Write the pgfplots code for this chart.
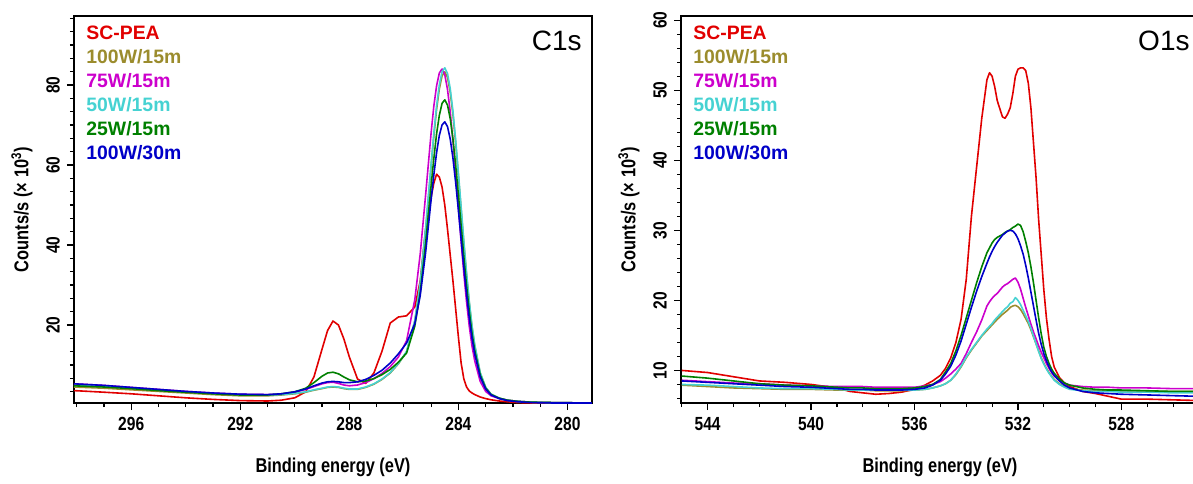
\documentclass[border=0pt]{standalone}
\usepackage{fontspec}
\setmainfont{Liberation Sans}
\newfontfamily\narrowfont{Liberation Sans}[FakeStretch=0.82]
\usepackage{pgfplots}
\pgfplotsset{compat=1.18}
\usepackage{pgfplotstable}

\definecolor{cred}{RGB}{225,0,0}
\definecolor{colive}{RGB}{155,140,45}
\definecolor{cmag}{RGB}{204,0,204}
\definecolor{ccyan}{RGB}{70,210,210}
\definecolor{cgreen}{RGB}{0,128,0}
\definecolor{cblue}{RGB}{0,0,200}

\newcommand{\tickfont}{\narrowfont\bfseries\fontsize{9.5}{11}\selectfont}
\newcommand{\labfont}{\narrowfont\bfseries\fontsize{10}{12}\selectfont}
\newcommand{\legfont}{\bfseries\fontsize{9.7}{11}\selectfont}

% C1s region: binding energy, counts/s (x 10^3)
\pgfplotstableread{
E      red   olive  mag   cyan  green blue
298.1  3.6   4.5    5.3   4.9   4.8   5.3
297.0  3.2   4.2    4.9   4.6   4.5   4.9
296.0  2.8   3.8    4.4   4.2   4.1   4.4
295.0  2.3   3.4    3.9   3.7   3.6   3.9
294.0  1.8   3.0    3.4   3.3   3.2   3.4
293.0  1.4   2.6    3.0   2.9   2.8   3.0
292.0  1.1   2.3    2.7   2.6   2.5   2.7
291.0  1.0   2.3    2.6   2.5   2.5   2.6
290.5  1.2   2.5    2.7   2.6   2.8   2.8
290.0  1.8   2.8    3.2   2.9   3.3   3.3
289.6  3.3   3.2    3.9   3.3   4.2   4.0
289.3  7.0   3.7    4.6   3.8   5.6   4.8
289.0  14.0  4.1    5.3   4.2   7.2   5.5
288.8  18.6  4.4    5.6   4.5   8.0   5.8
288.6  21.0  4.5    5.7   4.6   8.2   5.9
288.4  20.0  4.4    5.4   4.5   7.8   5.8
288.2  16.5  4.1    5.0   4.2   7.0   5.6
288.0  12.0  3.9    4.8   4.0   6.3   5.6
287.7  6.5   3.9    5.0   4.0   5.8   5.8
287.4  5.4   4.4    5.6   4.5   6.0   6.4
287.1  8.0   5.2    6.6   5.3   6.6   7.4
286.8  13.5  6.4    7.9   6.5   7.6   8.7
286.5  20.5  8.0    9.6   8.1   8.9   10.5
286.2  22.0  10.3   12.0  10.4  10.7  12.8
285.9  22.3  13.3   16.1  13.4  13.0  15.5
285.6  24.5  20.9   26.3  21.1  19.7  20.3
285.4  31.0  30.2   37.8  30.5  28.1  27.4
285.2  44.0  43.9   52.7  44.4  40.5  38.3
285.0  52.0  59.7   68.1  60.4  54.9  51.4
284.9  55.5  67.2   74.8  68.0  61.7  57.6
284.8  57.7  73.9   79.8  74.8  67.8  63.1
284.7  57.0  79.0   83.0  80.0  72.4  67.4
284.6  54.5  82.3   84.0  83.3  75.4  70.0
284.5  50.0  83.3   82.6  84.3  76.3  70.8
284.4  44.0  81.9   78.9  82.9  75.0  69.6
284.3  37.5  78.2   73.3  79.1  71.6  66.5
284.2  31.0  72.6   66.0  73.5  66.5  61.7
284.1  24.0  65.4   57.9  66.2  59.9  55.6
284.0  17.0  57.3   49.3  58.0  52.5  48.7
283.9  10.5  48.9   40.8  49.5  44.8  41.5
283.8  6.5   40.4   32.8  40.9  37.0  34.3
283.7  4.5   32.5   25.7  32.9  29.8  27.6
283.6  3.5   25.5   19.6  25.8  23.4  21.7
283.5  3.0   19.5   14.7  19.7  17.9  16.7
283.4  2.6   14.8   11.0  15.0  13.6  12.7
283.2  2.0   8.0    5.9   8.1   7.5   7.0
283.0  1.6   4.4    3.4   4.4   4.2   4.0
282.8  1.3   2.7    2.3   2.7   2.6   2.5
282.5  1.0   1.7    1.6   1.7   1.7   1.6
282.2  0.8   1.2    1.2   1.2   1.2   1.1
281.8  0.6   0.9    0.9   0.9   0.9   0.8
281.3  0.5   0.7    0.7   0.7   0.7   0.6
280.5  0.4   0.6    0.6   0.6   0.6   0.5
279.1  0.4   0.5    0.5   0.5   0.5   0.5
}\cones

% O1s region
\pgfplotstableread{
E      red   olive  mag   cyan  green blue
545.0  10.0  7.9   8.6   8.0   9.2   8.5
544.0  9.7   7.7   8.4   7.9   8.9   8.3
543.0  9.1   7.5   8.2   7.7   8.5   8.1
542.0  8.5   7.4   8.1   7.5   8.1   7.9
541.0  8.3   7.3   7.9   7.4   7.9   7.7
540.0  8.0   7.3   7.8   7.4   7.8   7.6
539.0  7.5   7.2   7.7   7.3   7.6   7.4
538.5  7.0   7.2   7.7   7.2   7.5   7.3
538.0  6.8   7.2   7.7   7.2   7.5   7.3
537.5  6.6   7.1   7.6   7.2   7.4   7.2
537.0  6.7   7.1   7.6   7.2   7.4   7.2
536.5  6.9   7.1   7.6   7.2   7.4   7.2
536.0  7.3   7.2   7.6   7.2   7.5   7.3
535.6  7.9   7.3   7.8   7.3   7.7   7.5
535.3  8.5   7.5   8.0   7.5   8.0   7.9
535.0  9.3   7.8   8.4   7.8   8.7   8.6
534.8  10.3  8.1   8.9   8.1   9.8   9.5
534.6  11.8  8.6   9.5   8.6   11.0  10.6
534.4  14.0  9.4   10.2  9.5   12.8  12.2
534.2  17.3  10.5  11.0  10.6  15.0  14.2
534.0  23.0  11.8  12.4  11.9  17.5  16.6
533.8  32.0  12.9  14.0  13.0  20.0  19.0
533.6  39.0  13.9  15.5  14.0  22.5  21.3
533.4  46.0  14.9  17.2  15.0  24.8  23.4
533.2  51.5  15.7  19.2  15.9  26.8  25.3
533.1  52.5  16.1  19.8  16.3  27.5  26.2
533.0  52.0  16.5  20.3  16.7  28.2  27.0
532.9  50.5  16.9  20.7  17.2  28.7  27.7
532.8  48.5  17.3  21.0  17.6  29.0  28.3
532.6  46.2  18.0  21.9  18.4  29.4  29.3
532.5  46.0  18.3  22.2  18.8  29.7  29.6
532.4  46.6  18.6  22.4  19.1  29.9  29.9
532.3  47.5  19.0  22.7  19.6  30.1  30.0
532.2  49.5  19.2  23.0  19.8  30.4  29.9
532.1  52.0  19.3  23.2  20.4  30.6  29.5
532.0  53.0  19.1  22.6  20.0  30.9  28.8
531.9  53.2  18.7  21.6  19.4  30.7  27.8
531.8  53.2  18.1  20.3  18.6  29.8  26.6
531.7  52.8  17.4  19.0  17.8  28.4  25.0
531.6  51.0  16.7  17.8  17.0  26.8  23.2
531.5  47.5  15.8  16.6  16.0  24.8  21.2
531.4  42.5  14.8  15.5  14.9  22.5  19.2
531.3  37.5  13.8  14.5  13.8  20.0  17.2
531.2  31.5  12.8  13.5  12.7  17.5  15.3
531.1  26.5  11.8  12.6  11.7  15.2  13.7
531.0  21.5  11.0  11.8  10.9  13.3  12.4
530.9  17.5  10.3  11.0  10.2  12.0  11.4
530.8  14.5  9.7   10.3  9.6   11.0  10.5
530.7  12.0  9.2   9.7   9.1   10.2  9.8
530.6  10.5  8.7   9.2   8.6   9.6   9.3
530.4  9.0   8.1   8.6   8.0   8.8   8.5
530.2  8.2   7.7   8.2   7.6   8.2   7.9
530.0  7.7   7.4   7.9   7.3   7.9   7.5
529.5  7.0   7.2   7.7   7.1   7.5   7.0
529.0  6.7   7.1   7.6   7.0   7.3   6.8
528.5  6.3   7.1   7.6   7.0   7.2   6.7
528.0  5.9   7.0   7.5   6.9   7.2   6.6
527.0  5.9   7.0   7.5   6.9   7.1   6.5
526.0  5.8   7.0   7.4   6.8   7.0   6.4
525.0  5.7   7.0   7.4   6.8   7.0   6.3
}\oones

\pgfplotsset{
  xps/.style={
    scale only axis, width=259pt, height=193.5pt,
    x dir=reverse,
    tick pos=left, tick align=outside,
    major tick length=3.5pt, minor tick length=2pt,
    tick style={black, line width=0.6pt},
    axis line style={line width=0.75pt},
    minor x tick num=3,
    ticklabel style={font=\tickfont},
    /pgf/number format/assume math mode=true,
    yticklabel style={rotate=90, anchor=south},
    xlabel={Binding energy (eV)},
    ylabel={Counts/s (× 10\textsuperscript{3})},
    label style={font=\labfont},
    xlabel style={at={(axis description cs:0.5,-0.1654)}, anchor=center},
    ylabel style={at={(axis description cs:-0.1004,0.5)}, anchor=center},
    every axis plot/.append style={line width=0.8pt, line join=round},
  },
}
\tikzset{leg/.style={anchor=base west, inner sep=0pt, font=\legfont}}

\begin{document}
\begin{tikzpicture}
\useasboundingbox (0,0) rectangle (596.5pt,241.5pt);

\begin{axis}[xps, at={(37pt,40pt)}, anchor=south west,
    xmin=279.1, xmax=298.1, ymin=0.5, ymax=97.25,
    xtick={276,280,...,300}, ytick={0,20,...,100}, minor y tick num=5]
  \addplot[cred]   table[x=E, y=red]   {\cones};
  \addplot[colive] table[x=E, y=olive] {\cones};
  \addplot[cmag]   table[x=E, y=mag]   {\cones};
  \addplot[ccyan]  table[x=E, y=cyan]  {\cones};
  \addplot[cgreen] table[x=E, y=green] {\cones};
  \addplot[cblue]  table[x=E, y=blue]  {\cones};
  \node[leg, text=cred]   at (rel axis cs:0.0232,0.9393) {SC-PEA};
  \node[leg, text=colive] at (rel axis cs:0.0232,0.8773) {100W/15m};
  \node[leg, text=cmag]   at (rel axis cs:0.0232,0.8153) {75W/15m};
  \node[leg, text=ccyan]  at (rel axis cs:0.0232,0.7533) {50W/15m};
  \node[leg, text=cgreen] at (rel axis cs:0.0232,0.6913) {25W/15m};
  \node[leg, text=cblue]  at (rel axis cs:0.0232,0.6293) {100W/30m};
  \node[anchor=base east, inner sep=0pt, font=\fontsize{14}{16}\selectfont]
    at (rel axis cs:0.9807,0.912) {C1s};
\end{axis}

\begin{axis}[xps, at={(340.5pt,40pt)}, anchor=south west,
    xmin=525, xmax=545.03, ymin=5.35, ymax=60.6,
    xtick={524,528,...,548}, ytick={0,10,...,70}, minor y tick num=4]
  \addplot[cred]   table[x=E, y=red]   {\oones};
  \addplot[colive] table[x=E, y=olive] {\oones};
  \addplot[cmag]   table[x=E, y=mag]   {\oones};
  \addplot[ccyan]  table[x=E, y=cyan]  {\oones};
  \addplot[cgreen] table[x=E, y=green] {\oones};
  \addplot[cblue]  table[x=E, y=blue]  {\oones};
  \node[leg, text=cred]   at (rel axis cs:0.0232,0.9393) {SC-PEA};
  \node[leg, text=colive] at (rel axis cs:0.0232,0.8773) {100W/15m};
  \node[leg, text=cmag]   at (rel axis cs:0.0232,0.8153) {75W/15m};
  \node[leg, text=ccyan]  at (rel axis cs:0.0232,0.7533) {50W/15m};
  \node[leg, text=cgreen] at (rel axis cs:0.0232,0.6913) {25W/15m};
  \node[leg, text=cblue]  at (rel axis cs:0.0232,0.6293) {100W/30m};
  \node[anchor=base east, inner sep=0pt, font=\fontsize{14}{16}\selectfont]
    at (rel axis cs:0.9826,0.912) {O1s};
\end{axis}
\end{tikzpicture}
\end{document}
